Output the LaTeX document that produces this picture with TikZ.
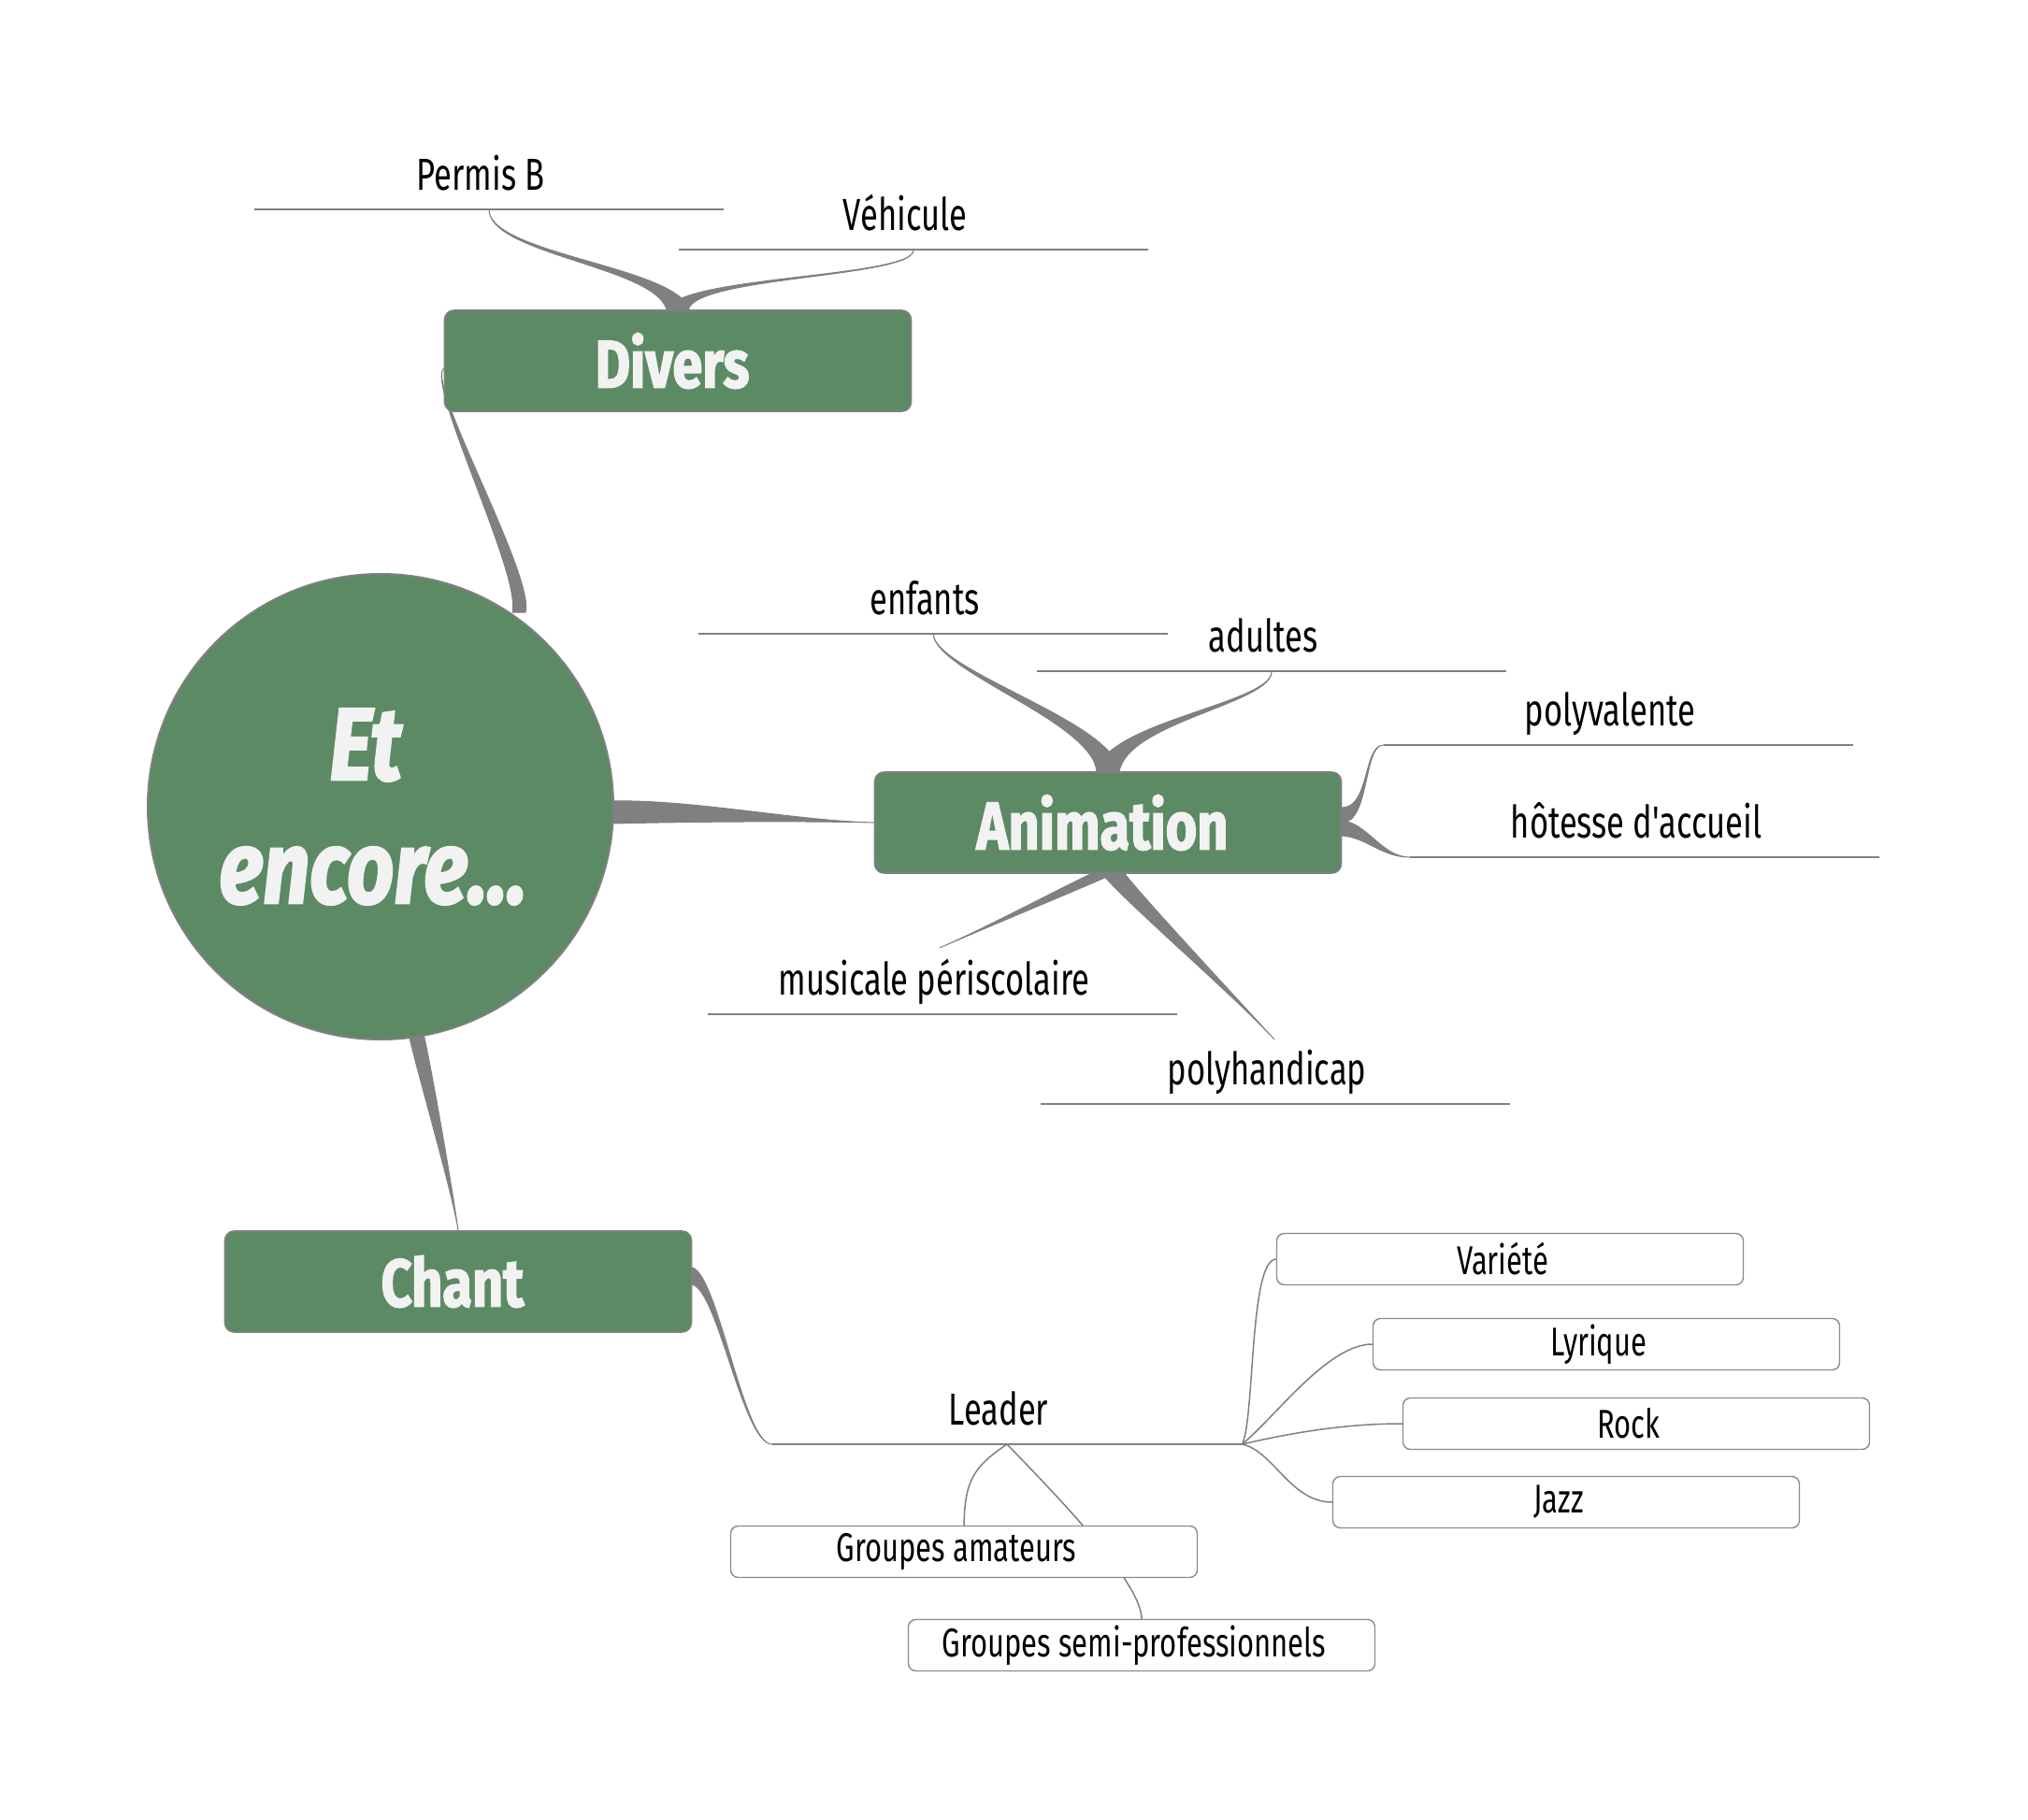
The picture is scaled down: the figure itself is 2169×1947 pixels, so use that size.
\documentclass[tikz,border=0pt]{standalone}
\usepackage{fontspec}
\setmainfont{Fira Sans}
\newfontfamily\leaffont[FakeStretch=0.72]{Fira Sans}
\newfontfamily\titlefont[FakeStretch=0.8,FakeBold=2]{Fira Sans}
\usetikzlibrary{calc,backgrounds}
\definecolor{mgreen}{RGB}{91,138,100}
\definecolor{lgray}{RGB}{128,128,128}
\definecolor{bgray}{RGB}{140,140,140}
\definecolor{tw}{RGB}{242,242,242}
\newcommand\mtaper[6]{\fill[conn] (#1) .. controls (#2) and ($(#3)+(#5,#6)$) .. ($(#4)+(#5,#6)$) -- ($(#4)-(#5,#6)$) .. controls ($(#3)-(#5,#6)$) and (#2) .. (#1) -- cycle;}
\tikzset{
  conn/.style={fill=lgray, draw=lgray, line width=0.5pt, line join=round},
  big/.style={rectangle, rounded corners=5pt, fill=mgreen, draw=lgray, line width=0.8pt,
    minimum width=249.5pt, minimum height=54pt, text=tw,
    execute at begin node={\hspace*{-6pt}},
    font=\titlefont\bfseries\fontsize{36}{40}\selectfont},
  leaf/.style={anchor=south, minimum width=251pt, inner xsep=0pt, inner ysep=0pt,
    text height=17pt, text depth=10pt, font=\leaffont\fontsize{24}{28}\selectfont,
    execute at begin node={\hspace*{-9pt}},
    append after command={(\tikzlastnode.south west) edge[draw=lgray, line width=0.8pt] (\tikzlastnode.south east)}},
  sbox/.style={rectangle, rounded corners=4pt, fill=white, draw=bgray, line width=0.7pt,
    minimum width=249.5pt, minimum height=27.5pt, inner sep=0pt,
    execute at begin node={\hspace*{-8pt}},
    font=\leaffont\fontsize{21.5}{24}\selectfont},
  thinc/.style={draw=lgray, line width=0.75pt},
}
\begin{document}
\begin{tikzpicture}[x=0.5pt, y=-0.5pt]
\useasboundingbox (0,0) rectangle (2169,1947);
% main nodes
\node[circle, fill=mgreen, draw=lgray, line width=1pt, minimum size=249pt, inner sep=0pt,
  align=center, text=tw, font=\titlefont\bfseries\itshape\fontsize{55}{66}\selectfont] (circ) at (407,863) {\hspace*{-16pt}Et\\\hspace*{-8pt}encore...};
\node[big] (dv) at (725,386) {Divers};
\node[big] (an) at (1185,880) {Animation};
\node[big] (ch) at (490,1371) {Chant};
% leaves
\node[leaf] (pb) at (523,224) {Permis B};
\node[leaf] (vh) at (977,267) {Véhicule};
\node[leaf] (en) at (998,678) {enfants};
\node[leaf] (ad) at (1360,718) {adultes};
\node[leaf] (pv) at (1731,797) {polyvalente};
\node[leaf] (ho) at (1759,917) {hôtesse d'accueil};
\node[leaf] (mu) at (1008,1085) {musicale périscolaire};
\node[leaf] (ph) at (1364,1181) {polyhandicap};
\node[leaf] (ld) at (1077,1545) {Leader};
% small boxes
\node[sbox] (va) at (1615,1347) {Variété};
\node[sbox] (ly) at (1718,1438) {Lyrique};
\node[sbox] (ro) at (1750,1523) {Rock};
\node[sbox] (ja) at (1675,1607) {Jazz};
\node[sbox] (ga) at (1031,1660) {Groupes amateurs};
\node[sbox] (sp) at (1221,1760) {Groupes semi-professionnels};
% connector end points
\coordinate (muT) at ($(mu.south)+(-3,-71)$);
\coordinate (phT) at ($(ph.south)+(-1,-69)$);
\coordinate (chR) at ($(ch.east)+(0,-6)$);
\coordinate (dvL) at ($(dv.west)+(0,8)$);
\coordinate (cTop) at (555,655);
\coordinate (cRight) at (654,869);
\coordinate (cBot) at (445,1106);
\begin{pgfonlayer}{background}
\fill[white] (0,0) rectangle (2169,1947);
% Divers branches
\mtaper{pb.south}{523,272}{712,285}{dv.north}{12}{0}
\mtaper{vh.south}{980,297}{735,295}{dv.north}{11}{0}
\mtaper{dvL}{455,410}{565,615}{cTop}{7}{0}
% circle to main
\mtaper{an.west}{850,878}{740,867}{cRight}{0}{12}
\mtaper{ch.north}{485,1280}{455,1150}{cBot}{8}{0}
% Animation branches
\mtaper{en.south}{1000,718}{1180,772}{an.north}{12}{0}
\mtaper{ad.south}{1362,752}{1195,772}{an.north}{12}{0}
\mtaper{pv.south west}{1458,797}{1465,872}{$(an.east)+(0,-8)$}{0}{8}
\mtaper{ho.south west}{1478,917}{1462,888}{$(an.east)+(0,6)$}{0}{8}
\mtaper{muT}{1060,990}{1150,948}{$(an.south)+(-6,0)$}{12}{0}
\mtaper{phT}{1320,1065}{1212,962}{$(an.south)+(6,0)$}{12}{0}
% Chant to Leader
\mtaper{ld.south west}{795,1545}{768,1372}{chR}{0}{9}
% Leader branches
\draw[thinc] (ld.south east) .. controls (1342,1520) and (1336,1347) .. (va.west);
\draw[thinc] (ld.south east) .. controls (1365,1515) and (1420,1438) .. (ly.west);
\draw[thinc] (ld.south east) .. controls (1385,1532) and (1440,1523) .. (ro.west);
\draw[thinc] (ld.south east) .. controls (1362,1552) and (1380,1607) .. (ja.west);
\draw[thinc] (ld.south) .. controls (1040,1570) and (1032,1585) .. (ga.north);
\draw[thinc] (ld.south) .. controls (1140,1610) and (1221,1695) .. (sp.north);
\end{pgfonlayer}
\end{tikzpicture}
\end{document}
